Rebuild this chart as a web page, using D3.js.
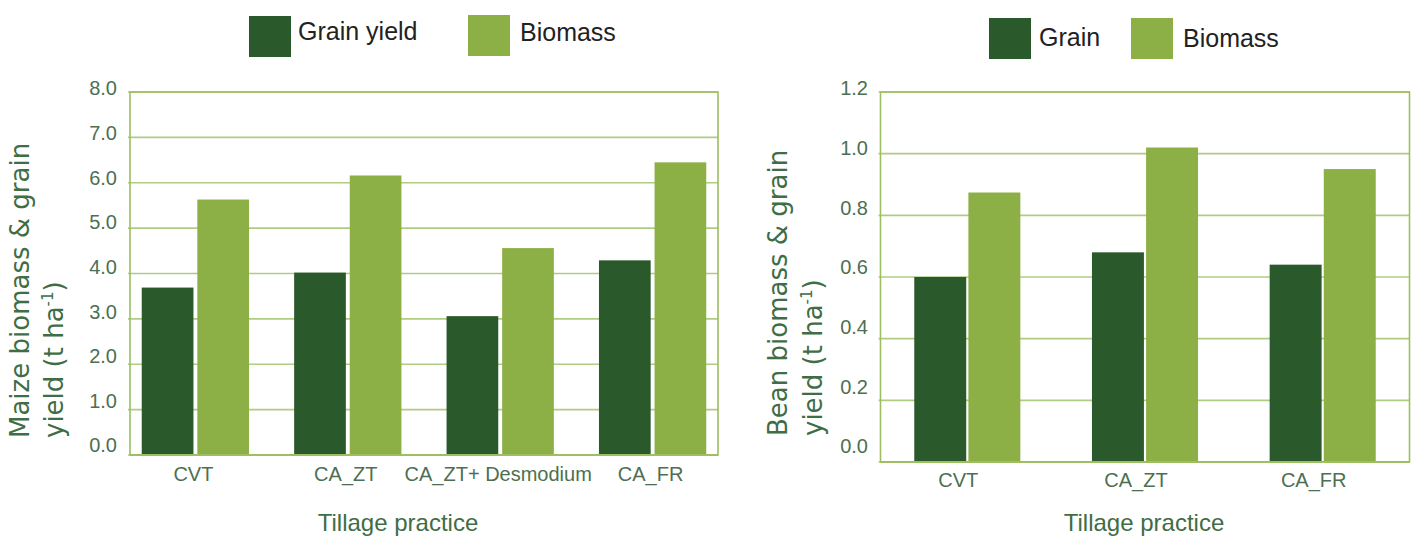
<!DOCTYPE html>
<html><head><meta charset="utf-8">
<script src="https://cdn.jsdelivr.net/npm/d3@7"></script>
<style>body{margin:0;background:#fff}svg{display:block}</style>
</head><body><svg id="c" width="1411" height="536"></svg>
<script>
// ---- data ----
const maizeCategories = ["CVT","CA_ZT","CA_ZT+ Desmodium","CA_FR"];
const maizeGrain = [3.69, 4.02, 3.06, 4.29];
const maizeBiomass = [5.63, 6.16, 4.56, 6.45];
const maizeTicks = [0,1,2,3,4,5,6,7,8];
const maizeSeries = ["Grain yield","Biomass"];

const beanCategories = ["CVT","CA_ZT","CA_FR"];
const beanGrain = [0.60, 0.68, 0.64];
const beanBiomass = [0.874, 1.02, 0.95];
const beanTicks = [0,0.2,0.4,0.6,0.8,1.0,1.2];
const beanSeries = ["Grain","Biomass"];

const DARK = "#2a5a2c", LIGHT = "#8db046", GRID = "#afcd82", FRAME = "#9dbf60";
const TICKC = "#4d6f51", TITLEC = "#3f6d46";
const svg = d3.select("#c");

function drawChart(o){
  const g = svg.append("g");
  const x = d3.scaleBand().domain(o.cats).range([o.x0,o.x1]).paddingInner(o.pi).paddingOuter(o.po);
  const xs = d3.scaleBand().domain([0,1]).range([0,x.bandwidth()]).paddingInner(o.subPad);
  const y = d3.scaleLinear().domain([0,o.max]).range([o.y0,o.y1]);
  // gridlines
  g.selectAll(".grid").data(o.ticks).join("line")
    .attr("x1",o.x0-2).attr("x2",o.x1).attr("y1",d=>y(d)).attr("y2",d=>y(d))
    .attr("stroke",GRID).attr("stroke-width",1.6);
  // frame
  g.append("rect").attr("x",o.x0).attr("y",y(o.max)).attr("width",o.x1-o.x0).attr("height",y(0)-y(o.max))
    .attr("fill","none").attr("stroke",FRAME).attr("stroke-width",1.6);
  // bars
  const rows = o.cats.map((c,i)=>({c, vals:[o.grain[i], o.biomass[i]]}));
  const grp = g.selectAll(".grp").data(rows).join("g").attr("transform",d=>`translate(${x(d.c)},0)`);
  grp.selectAll("rect").data(d=>d.vals.map((v,k)=>({v,k}))).join("rect")
    .attr("x",d=>xs(d.k)).attr("width",xs.bandwidth())
    .attr("y",d=>y(d.v)).attr("height",d=>y(0)-y(d.v))
    .attr("fill",d=>d.k===0?DARK:LIGHT);
  // bottom axis line over bars
  g.append("line").attr("x1",o.x0).attr("x2",o.x1).attr("y1",y(0)).attr("y2",y(0)).attr("stroke",FRAME).attr("stroke-width",1.8);
  // y tick labels
  g.selectAll(".yt").data(o.ticks).join("text")
    .attr("x",o.tickX).attr("y",d=>y(d)).attr("dy","0.32em").attr("dx",0)
    .attr("transform",d=>`translate(0,${-3 - (o.max-d)/o.max*o.tickShift})`)
    .attr("text-anchor","end").attr("font-family","Liberation Sans, Arial, sans-serif").attr("font-size",20)
    .attr("fill",TICKC).text(d=>d.toFixed(1));
  // x tick labels
  g.selectAll(".xt").data(o.cats).join("text")
    .attr("x",d=>x(d)+x.bandwidth()/2+o.xlabDx).attr("y",o.xlabY)
    .attr("text-anchor","middle").attr("font-family","Liberation Sans, Arial, sans-serif").attr("font-size",20)
    .attr("fill",TICKC).text(d=>d);
  // x title
  g.append("text").attr("x",o.xtitleX).attr("y",531).attr("text-anchor","middle")
    .attr("font-family","Liberation Sans, Arial, sans-serif").attr("font-size",24).attr("fill",TITLEC).text("Tillage practice");
  // y title
  const yt = g.append("text").attr("transform",`translate(${o.ytX1},${o.ytY}) rotate(-90)`)
    .attr("font-family","DejaVu Sans, sans-serif").attr("font-size",26).attr("fill",TITLEC).text(o.ytitle);
  const yt2 = g.append("text").attr("transform",`translate(${o.ytX2},${o.ytY}) rotate(-90)`)
    .attr("font-family","DejaVu Sans, sans-serif").attr("font-size",26).attr("fill",TITLEC);
  yt2.append("tspan").text("yield (t ha");
  yt2.append("tspan").attr("font-size",15).attr("dy",-10).text("-1");
  yt2.append("tspan").attr("dy",10).text(")");
  // legend
  o.series.forEach((s,i)=>{
    g.append("rect").attr("x",o.leg[i][0]).attr("y",o.leg[i][1]).attr("width",42).attr("height",41).attr("fill",i===0?DARK:LIGHT);
    g.append("text").attr("x",o.leg[i][2]).attr("y",o.leg[i][3]).attr("font-family","Liberation Sans, Arial, sans-serif")
      .attr("font-size",25).attr("fill","#222").text(s);
  });
}

drawChart({cats:maizeCategories, grain:maizeGrain, biomass:maizeBiomass, ticks:maizeTicks, max:8,
  x0:130, x1:718, y0:455, y1:92, pi:0.296, po:0.077, subPad:0.07, tickX:117, tickShift:6,
  xlabY:481, xlabDx:-2, xtitleX:398, ytitle:"Maize biomass & grain", ytX1:29, ytX2:63, ytY:438,
  series:maizeSeries, leg:[[249,16,298,40],[468,15,520,41]]});

drawChart({cats:beanCategories, grain:beanGrain, biomass:beanBiomass, ticks:beanTicks, max:1.2,
  x0:880.5, x1:1409.5, y0:462, y1:92, pi:0.403, po:0.19, subPad:0.04, tickX:868, tickShift:12,
  xlabY:487, xlabDx:-9, xtitleX:1144, ytitle:"Bean biomass & grain", ytX1:787, ytX2:822, ytY:436,
  series:beanSeries, leg:[[989,18,1039,46],[1131,18,1183,47]]});
</script></body></html>
